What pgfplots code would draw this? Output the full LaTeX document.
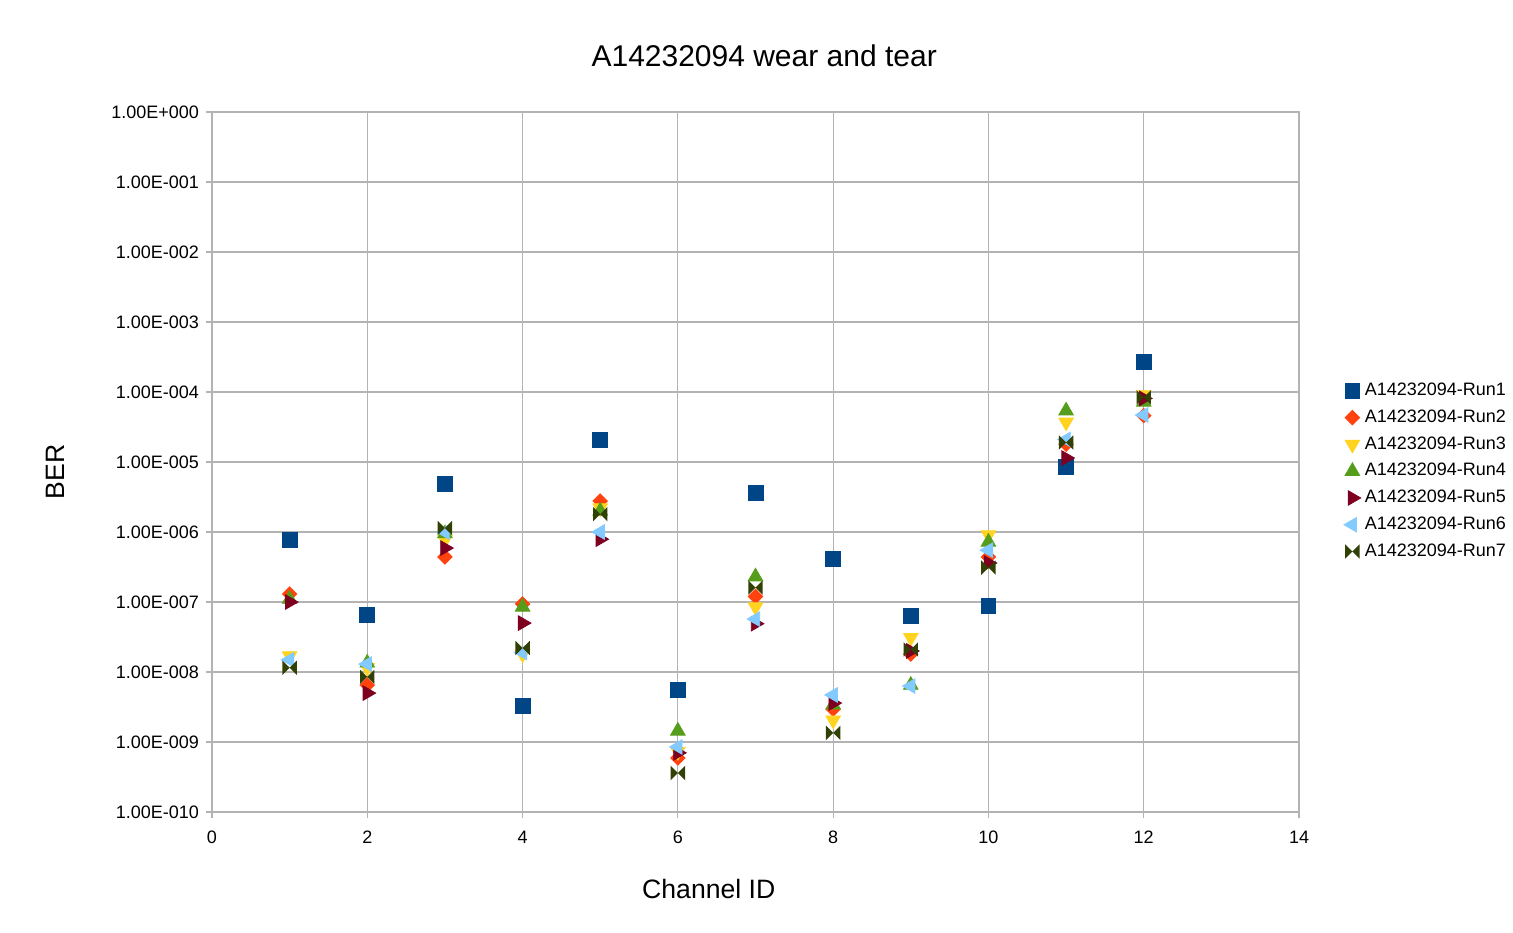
\documentclass[border=0pt]{standalone}
\usepackage{pgfplots}
\pgfplotsset{compat=1.18}
\usepackage{fontspec}
\setmainfont{Liberation Sans}
\usetikzlibrary{plotmarks}
\definecolor{c1}{HTML}{004586}
\definecolor{c2}{HTML}{FF420E}
\definecolor{c3}{HTML}{FFD320}
\definecolor{c4}{HTML}{579D1C}
\definecolor{c5}{HTML}{7E0021}
\definecolor{c6}{HTML}{83CAFF}
\definecolor{c7}{HTML}{314004}
\definecolor{gridc}{HTML}{B3B3B3}
\pgfdeclareplotmark{bowtie}{%
  \pgfpathmoveto{\pgfqpoint{-\pgfplotmarksize}{-\pgfplotmarksize}}%
  \pgfpathlineto{\pgfqpoint{-\pgfplotmarksize}{\pgfplotmarksize}}%
  \pgfpathlineto{\pgfqpoint{\pgfplotmarksize}{-\pgfplotmarksize}}%
  \pgfpathlineto{\pgfqpoint{\pgfplotmarksize}{\pgfplotmarksize}}%
  \pgfpathclose
  \pgfusepathqfill}
\pgfdeclareplotmark{mydiamond}{%
  \pgfpathmoveto{\pgfqpoint{0pt}{\pgfplotmarksize}}%
  \pgfpathlineto{\pgfqpoint{\pgfplotmarksize}{0pt}}%
  \pgfpathlineto{\pgfqpoint{0pt}{-\pgfplotmarksize}}%
  \pgfpathlineto{\pgfqpoint{-\pgfplotmarksize}{0pt}}%
  \pgfpathclose
  \pgfusepathqfill}
\begin{document}
\begin{tikzpicture}
\useasboundingbox (-106pt,-60pt) rectangle (650.5pt,406pt);
\begin{axis}[
  at={(0,0)}, anchor=south west,
  scale only axis, width=543.5pt, height=350pt,
  ymode=log, xmin=0, xmax=14, ymin=1e-10, ymax=1,
  xtick={0,2,...,14},
  ytick={1e-10,1e-9,1e-8,1e-7,1e-6,1e-5,1e-4,1e-3,1e-2,1e-1,1},
  yticklabels={1.00E-010,1.00E-009,1.00E-008,1.00E-007,1.00E-006,1.00E-005,1.00E-004,1.00E-003,1.00E-002,1.00E-001,1.00E+000},
  minor ytick={}, yminorticks=false,
  grid=major, major grid style={gridc, line width=0.6pt},
  axis line style={gridc, line width=0.6pt},
  tick style={gridc, line width=0.6pt},
  tick align=outside, major tick length=3pt,
  xtick pos=bottom, ytick pos=left,
  /pgf/number format/assume math mode=true,
  ticklabel style={font=\fontsize{9}{10}\selectfont, text=black},
  xticklabel style={yshift=-3pt},
  title={A14232094 wear and tear},
  title style={font=\fontsize{15}{17}\selectfont, at={(axis description cs:0.508,1.063)}, anchor=center},
  xlabel={Channel ID},
  xlabel style={font=\fontsize{13.3}{15}\selectfont, at={(axis description cs:0.457,-0.11)}, anchor=center},
  ylabel={BER},
  ylabel style={font=\fontsize{13.3}{15}\selectfont, at={(axis description cs:-0.144,0.486)}, anchor=center, rotate=0},
  legend style={draw=none, fill=none, font=\fontsize{9}{10}\selectfont, at={(axis description cs:1.041,0.619)}, anchor=north west, row sep=1.6pt, inner sep=0pt},
  legend cell align=left,
  legend image code/.code={\draw[#1] (0pt,0pt) plot coordinates {(0pt,0pt)};},
  clip=false,
]
\addplot[only marks, mark=square*, mark size=3.7pt, c1, mark options={draw=c1,fill=c1}] coordinates {
(1,7.7e-7)(2,6.5e-8)(3,4.85e-6)(4,3.3e-9)(5,2.06e-5)(6,5.5e-9)(7,3.6e-6)(8,4.1e-7)(9,6.3e-8)(10,8.8e-8)(11,8.5e-6)(12,2.68e-4)};
\addlegendentry{A14232094-Run1}
\addplot[only marks, mark=mydiamond, mark size=3.9pt, c2, mark options={draw=c2,fill=c2}] coordinates {
(1,1.3e-7)(2,6.5e-9)(3,4.4e-7)(4,9.4e-8)(5,2.77e-6)(6,5.9e-10)(7,1.2e-7)(8,2.95e-9)(9,1.8e-8)(10,4.4e-7)(11,1.8e-5)(12,4.6e-5)};
\addlegendentry{A14232094-Run2}
\addplot[only marks, mark=triangle*, mark size=4.2pt, c3, mark options={draw=c3,fill=c3,rotate=180}] coordinates {
(1,1.7e-8)(2,1.15e-8)(3,7.7e-7)(4,1.8e-8)(5,2.2e-6)(6,7.3e-10)(7,8.5e-8)(8,2.05e-9)(9,3.1e-8)(10,9.1e-7)(11,3.7e-5)(12,9.1e-5)};
\addlegendentry{A14232094-Run3}
\addplot[only marks, mark=triangle*, mark size=4.2pt, c4, mark options={draw=c4,fill=c4}] coordinates {
(1,1.1e-7)(2,1.35e-8)(3,9.5e-7)(4,8.5e-8)(5,2.0e-6)(6,1.44e-9)(7,2.3e-7)(8,3.4e-9)(9,6.5e-9)(10,7.2e-7)(11,5.4e-5)(12,7.2e-5)};
\addlegendentry{A14232094-Run4}
\addplot[only marks, mark=triangle*, mark size=4.2pt, c5, mark options={draw=c5,fill=c5,rotate=-90}] coordinates {
(1,1.0e-7)(2,5e-9)(3,5.9e-7)(4,5e-8)(5,7.9e-7)(6,7e-10)(7,4.9e-8)(8,3.6e-9)(9,2.0e-8)(10,3.6e-7)(11,1.14e-5)(12,8.1e-5)};
\addlegendentry{A14232094-Run5}
\addplot[only marks, mark=triangle*, mark size=4.2pt, c6, mark options={draw=c6,fill=c6,rotate=90}] coordinates {
(1,1.5e-8)(2,1.3e-8)(3,1.0e-6)(4,1.9e-8)(5,1.0e-6)(6,8.5e-10)(7,5.7e-8)(8,4.7e-9)(9,6.3e-9)(10,5.5e-7)(11,2.1e-5)(12,4.7e-5)};
\addlegendentry{A14232094-Run6}
\addplot[only marks, mark=bowtie, mark size=3.6pt, c7, mark options={draw=c7,fill=c7}] coordinates {
(1,1.15e-8)(2,8.5e-9)(3,1.14e-6)(4,2.2e-8)(5,1.8e-6)(6,3.6e-10)(7,1.6e-7)(8,1.35e-9)(9,2.1e-8)(10,3.1e-7)(11,1.9e-5)(12,8.4e-5)};
\addlegendentry{A14232094-Run7}
\end{axis}
\end{tikzpicture}
\end{document}
